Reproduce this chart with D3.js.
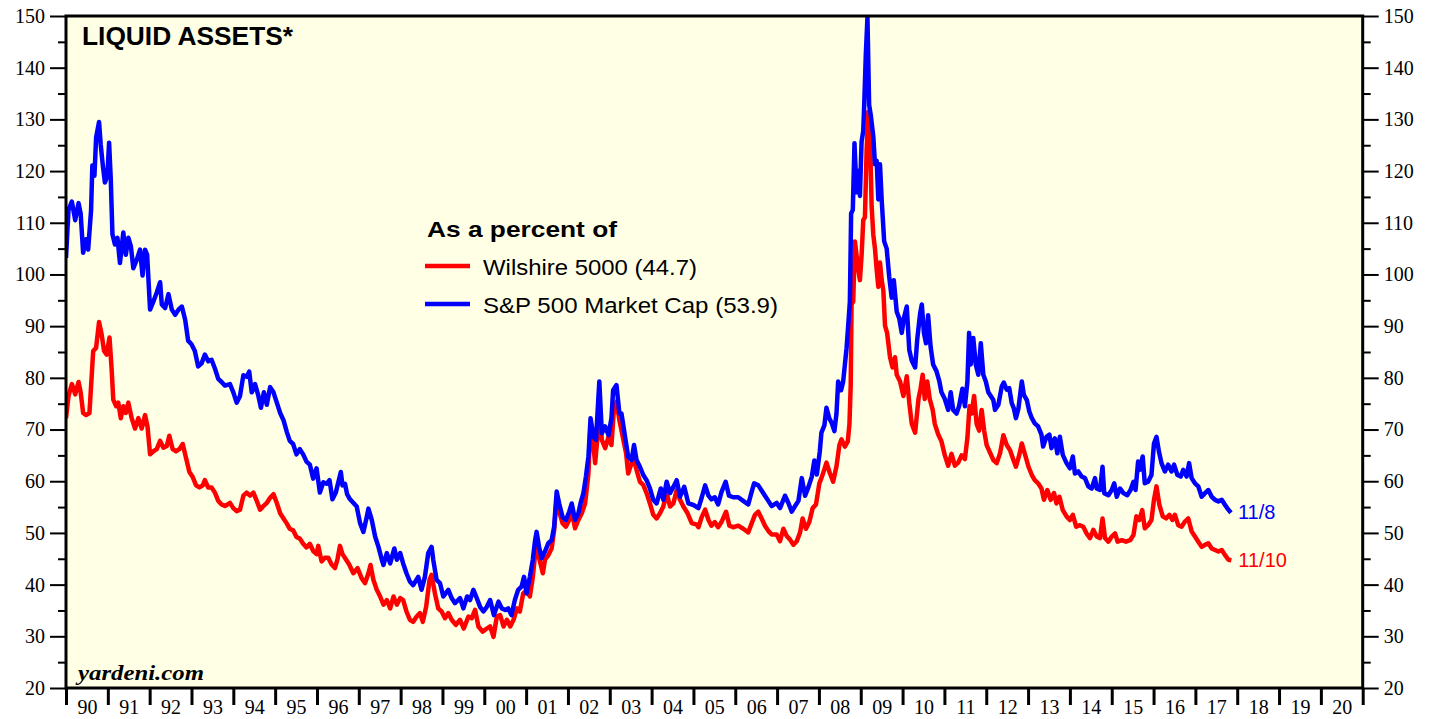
<!DOCTYPE html>
<html><head><meta charset="utf-8">
<script src="https://cdn.jsdelivr.net/npm/d3@7"></script>
<style>body{margin:0;background:#fff;} svg{display:block}</style>
</head><body><svg id="c" width="1437" height="719"></svg>
<script>
// ---- data ----
const yearLabels = ["90","91","92","93","94","95","96","97","98","99","00","01","02","03","04","05","06","07","08","09","10","11","12","13","14","15","16","17","18","19","20"];
const majorTicks = [20,30,40,50,60,70,80,90,100,110,120,130,140,150];
const minorTicks = [25,35,45,55,65,75,85,95,105,115,125,135,145];
const seriesNames = ["Wilshire 5000 (44.7)", "S&P 500 Market Cap (53.9)"];
const endLabels = ["11/10", "11/8"];

// S&P 500 market cap (blue), [decimal year, percent]
const spData = [[1990.00,103.2],[1990.06,112.5],[1990.14,114.1],[1990.22,110.5],[1990.30,113.8],[1990.35,111.8],[1990.41,104.2],[1990.48,106.8],[1990.53,104.8],[1990.60,112.5],[1990.63,121.1],[1990.68,119.1],[1990.72,126.5],[1990.79,129.5],[1990.83,125.1],[1990.88,121.1],[1990.93,117.8],[1990.99,119.1],[1991.03,125.5],[1991.07,118.5],[1991.11,107.8],[1991.17,105.8],[1991.23,107.1],[1991.29,102.2],[1991.37,108.1],[1991.43,103.8],[1991.49,107.1],[1991.55,105.5],[1991.61,101.2],[1991.69,102.8],[1991.77,104.8],[1991.83,99.8],[1991.89,104.8],[1991.94,103.8],[1992.01,93.2],[1992.09,94.8],[1992.17,96.5],[1992.25,98.5],[1992.29,94.2],[1992.37,93.5],[1992.45,96.2],[1992.53,93.2],[1992.61,92.2],[1992.69,93.2],[1992.77,93.8],[1992.85,91.2],[1992.92,87.2],[1993.00,86.5],[1993.08,85.2],[1993.16,82.2],[1993.24,82.8],[1993.32,84.5],[1993.40,83.2],[1993.48,83.5],[1993.56,81.8],[1993.64,79.8],[1993.72,79.2],[1993.80,78.5],[1993.92,78.8],[1994.00,77.2],[1994.08,75.2],[1994.16,76.5],[1994.24,80.5],[1994.32,80.2],[1994.38,81.2],[1994.44,77.2],[1994.52,78.8],[1994.60,76.5],[1994.66,74.2],[1994.73,77.2],[1994.80,74.8],[1994.88,78.2],[1994.96,77.2],[1995.04,75.2],[1995.12,73.2],[1995.20,71.8],[1995.28,69.5],[1995.35,67.8],[1995.43,67.2],[1995.51,65.2],[1995.59,66.2],[1995.67,65.2],[1995.75,63.8],[1995.83,63.2],[1995.91,60.5],[1995.99,62.5],[1996.07,57.8],[1996.15,59.8],[1996.23,59.5],[1996.30,60.2],[1996.37,56.5],[1996.45,57.8],[1996.51,59.8],[1996.57,61.8],[1996.61,59.2],[1996.67,59.5],[1996.72,57.5],[1996.79,56.5],[1996.95,55.1],[1997.03,51.9],[1997.11,50.2],[1997.19,53.1],[1997.23,54.7],[1997.31,52.5],[1997.39,49.3],[1997.47,47.3],[1997.55,44.8],[1997.59,43.8],[1997.67,46.1],[1997.75,44.1],[1997.85,47.0],[1997.91,44.8],[1997.99,46.1],[1998.06,44.1],[1998.14,42.2],[1998.22,40.6],[1998.30,39.9],[1998.42,41.5],[1998.50,39.0],[1998.58,41.5],[1998.66,46.1],[1998.74,47.3],[1998.78,44.8],[1998.86,40.9],[1998.94,40.3],[1999.02,37.7],[1999.14,39.0],[1999.22,37.4],[1999.30,36.4],[1999.42,37.4],[1999.50,35.4],[1999.59,37.7],[1999.66,37.0],[1999.74,39.0],[1999.82,37.4],[1999.90,35.7],[1999.98,34.8],[2000.06,35.7],[2000.14,37.0],[2000.23,34.1],[2000.34,36.7],[2000.42,35.4],[2000.50,35.1],[2000.57,35.4],[2000.65,34.1],[2000.73,37.0],[2000.81,39.0],[2000.89,39.6],[2000.95,41.5],[2001.01,38.3],[2001.09,41.5],[2001.16,44.8],[2001.21,48.3],[2001.25,50.2],[2001.31,47.3],[2001.37,45.1],[2001.45,46.4],[2001.53,48.0],[2001.61,48.6],[2001.67,51.2],[2001.73,58.0],[2001.79,55.7],[2001.87,53.1],[2001.95,52.5],[2002.03,54.1],[2002.09,55.7],[2002.17,52.5],[2002.25,53.8],[2002.30,55.7],[2002.37,57.7],[2002.43,60.9],[2002.49,64.8],[2002.54,72.2],[2002.61,68.6],[2002.67,68.0],[2002.75,79.3],[2002.81,69.3],[2002.89,70.6],[2002.97,68.9],[2003.04,72.2],[2003.08,77.6],[2003.16,78.6],[2003.23,73.1],[2003.28,73.1],[2003.36,68.9],[2003.44,64.7],[2003.52,64.1],[2003.58,67.0],[2003.64,64.1],[2003.72,62.8],[2003.80,61.2],[2003.88,60.2],[2003.96,58.6],[2004.04,56.4],[2004.12,55.7],[2004.22,58.6],[2004.28,56.4],[2004.36,59.9],[2004.44,57.7],[2004.52,58.9],[2004.60,60.2],[2004.68,57.0],[2004.78,58.9],[2004.88,55.7],[2005.00,55.4],[2005.12,54.8],[2005.20,56.9],[2005.28,59.2],[2005.36,57.2],[2005.43,56.5],[2005.51,56.9],[2005.59,55.5],[2005.67,57.9],[2005.77,59.9],[2005.85,57.2],[2005.95,56.9],[2006.07,56.9],[2006.19,56.2],[2006.31,55.5],[2006.39,57.9],[2006.45,59.6],[2006.55,59.2],[2006.63,58.2],[2006.71,57.2],[2006.79,56.2],[2006.87,55.2],[2006.99,55.8],[2007.07,54.8],[2007.19,57.2],[2007.27,55.8],[2007.35,54.1],[2007.43,55.2],[2007.51,56.2],[2007.59,60.6],[2007.67,57.2],[2007.75,58.9],[2007.83,60.9],[2007.89,64.0],[2007.95,61.3],[2008.02,65.7],[2008.06,69.4],[2008.13,70.8],[2008.18,74.2],[2008.25,72.1],[2008.30,71.4],[2008.37,69.7],[2008.42,73.1],[2008.46,79.3],[2008.53,77.6],[2008.58,79.3],[2008.66,85.7],[2008.70,90.1],[2008.74,94.8],[2008.77,111.8],[2008.81,112.5],[2008.85,125.4],[2008.90,115.9],[2008.94,120.0],[2008.98,115.2],[2009.02,125.7],[2009.06,127.8],[2009.08,132.2],[2009.12,142.3],[2009.16,149.8],[2009.20,132.8],[2009.24,130.8],[2009.30,126.7],[2009.34,121.3],[2009.38,122.0],[2009.42,114.5],[2009.46,121.3],[2009.50,114.5],[2009.56,106.4],[2009.62,105.0],[2009.68,99.6],[2009.74,95.5],[2009.79,98.9],[2009.86,92.8],[2009.92,91.5],[2009.98,88.7],[2010.03,91.5],[2010.10,93.8],[2010.16,85.4],[2010.22,83.3],[2010.30,82.0],[2010.35,87.4],[2010.42,92.5],[2010.46,94.2],[2010.51,88.7],[2010.56,86.7],[2010.61,92.1],[2010.67,86.0],[2010.73,82.6],[2010.81,81.3],[2010.88,79.3],[2010.93,77.2],[2011.01,75.9],[2011.09,73.8],[2011.15,77.2],[2011.21,73.8],[2011.29,73.1],[2011.35,74.5],[2011.43,77.9],[2011.49,74.5],[2011.55,79.3],[2011.59,88.7],[2011.63,82.6],[2011.69,87.7],[2011.75,82.6],[2011.81,80.6],[2011.87,86.7],[2011.93,80.6],[2011.99,79.3],[2012.05,77.2],[2012.17,75.7],[2012.21,73.8],[2012.29,74.8],[2012.37,78.3],[2012.42,79.1],[2012.49,77.7],[2012.55,78.0],[2012.61,75.1],[2012.66,74.1],[2012.71,72.2],[2012.77,74.1],[2012.85,79.3],[2012.90,76.7],[2012.97,75.7],[2013.03,73.5],[2013.09,72.2],[2013.16,71.2],[2013.24,70.6],[2013.32,69.0],[2013.36,66.7],[2013.44,68.6],[2013.51,69.0],[2013.56,66.4],[2013.64,68.3],[2013.70,65.4],[2013.76,68.6],[2013.83,65.1],[2013.92,63.5],[2014.00,62.5],[2014.07,64.8],[2014.12,61.5],[2014.20,61.9],[2014.28,60.9],[2014.36,60.6],[2014.44,59.0],[2014.52,58.6],[2014.60,60.6],[2014.64,58.6],[2014.72,58.3],[2014.78,62.8],[2014.82,57.7],[2014.92,57.3],[2015.00,58.3],[2015.06,59.6],[2015.12,57.0],[2015.20,58.6],[2015.28,57.7],[2015.37,57.3],[2015.45,58.3],[2015.52,59.9],[2015.57,58.3],[2015.63,63.8],[2015.67,62.2],[2015.74,64.8],[2015.79,59.6],[2015.87,59.9],[2015.95,61.2],[2016.01,67.3],[2016.07,68.6],[2016.13,65.7],[2016.19,63.5],[2016.27,61.9],[2016.35,63.2],[2016.43,61.9],[2016.49,63.2],[2016.57,61.2],[2016.65,60.9],[2016.71,62.2],[2016.79,60.9],[2016.85,63.5],[2016.91,60.6],[2016.99,59.6],[2017.07,59.0],[2017.15,57.0],[2017.23,57.7],[2017.31,58.3],[2017.39,57.0],[2017.47,56.4],[2017.55,56.1],[2017.63,56.4],[2017.71,55.4],[2017.76,54.8],[2017.85,53.9]];

// Wilshire 5000 (red), [decimal year, percent]
const wilshireData = [[1990.00,72.2],[1990.06,76.5],[1990.14,78.8],[1990.22,76.8],[1990.30,79.2],[1990.35,77.2],[1990.41,73.2],[1990.48,72.8],[1990.56,73.2],[1990.61,79.8],[1990.65,85.2],[1990.72,85.8],[1990.79,90.8],[1990.85,88.5],[1990.91,85.2],[1990.97,84.5],[1991.04,87.8],[1991.09,81.8],[1991.13,75.8],[1991.20,74.5],[1991.25,75.2],[1991.31,72.2],[1991.37,74.5],[1991.43,73.2],[1991.49,75.2],[1991.57,72.2],[1991.65,70.2],[1991.73,72.2],[1991.81,70.2],[1991.89,72.8],[1991.95,70.5],[1992.01,65.2],[1992.09,65.8],[1992.17,66.2],[1992.25,67.8],[1992.33,66.5],[1992.41,66.8],[1992.47,68.8],[1992.55,66.2],[1992.63,65.8],[1992.71,66.2],[1992.79,67.2],[1992.87,64.5],[1992.95,61.8],[1993.03,60.8],[1993.11,59.2],[1993.19,58.8],[1993.27,59.2],[1993.32,60.2],[1993.40,58.8],[1993.48,58.8],[1993.56,57.8],[1993.64,56.2],[1993.72,55.5],[1993.80,55.2],[1993.92,55.8],[1994.00,54.8],[1994.08,54.2],[1994.16,54.5],[1994.24,57.2],[1994.32,57.8],[1994.40,57.2],[1994.48,57.8],[1994.56,56.2],[1994.64,54.5],[1994.72,55.2],[1994.80,55.8],[1994.88,56.8],[1994.96,57.5],[1995.04,55.8],[1995.12,53.8],[1995.20,52.8],[1995.28,51.8],[1995.35,50.8],[1995.43,50.5],[1995.51,49.2],[1995.59,48.9],[1995.67,47.9],[1995.75,47.2],[1995.83,47.9],[1995.91,46.5],[1995.99,45.9],[1996.03,47.5],[1996.11,44.5],[1996.19,45.2],[1996.27,45.2],[1996.35,43.9],[1996.43,43.2],[1996.49,44.9],[1996.55,47.5],[1996.61,45.9],[1996.69,44.9],[1996.77,43.9],[1996.87,42.2],[1996.97,43.2],[1997.07,41.2],[1997.15,40.3],[1997.23,42.2],[1997.28,43.8],[1997.35,40.9],[1997.43,39.0],[1997.51,37.7],[1997.59,36.1],[1997.67,37.0],[1997.75,35.4],[1997.83,37.7],[1997.91,36.1],[1997.99,37.4],[1998.06,37.0],[1998.14,34.8],[1998.22,33.2],[1998.30,32.8],[1998.38,33.8],[1998.46,34.5],[1998.53,32.8],[1998.61,35.7],[1998.69,40.9],[1998.74,41.9],[1998.82,38.3],[1998.90,35.4],[1998.98,34.8],[1999.06,33.5],[1999.14,34.5],[1999.22,33.2],[1999.32,32.2],[1999.42,33.2],[1999.51,31.5],[1999.62,33.8],[1999.70,33.5],[1999.78,35.1],[1999.86,31.9],[1999.96,30.9],[2000.06,31.5],[2000.14,31.9],[2000.22,29.9],[2000.30,33.8],[2000.38,34.1],[2000.46,31.9],[2000.54,33.2],[2000.62,31.9],[2000.70,33.2],[2000.78,35.4],[2000.85,34.8],[2000.93,38.3],[2001.01,38.9],[2001.09,37.7],[2001.16,41.5],[2001.24,47.7],[2001.32,44.8],[2001.40,42.2],[2001.45,44.8],[2001.53,45.7],[2001.61,47.0],[2001.67,50.5],[2001.73,56.7],[2001.79,54.1],[2001.87,51.9],[2001.95,51.2],[2002.03,52.5],[2002.09,54.1],[2002.17,50.9],[2002.25,52.5],[2002.33,53.8],[2002.41,55.7],[2002.49,61.5],[2002.54,71.2],[2002.61,66.7],[2002.65,63.5],[2002.70,68.0],[2002.75,75.1],[2002.81,68.0],[2002.89,66.4],[2002.97,68.6],[2003.04,67.0],[2003.10,74.1],[2003.16,75.4],[2003.23,71.8],[2003.31,68.6],[2003.39,65.4],[2003.44,61.5],[2003.52,63.5],[2003.58,64.1],[2003.64,62.2],[2003.72,59.9],[2003.80,59.3],[2003.88,57.7],[2003.96,55.7],[2004.04,53.5],[2004.12,52.8],[2004.20,53.8],[2004.28,55.1],[2004.36,57.7],[2004.44,55.1],[2004.52,55.7],[2004.60,58.3],[2004.68,56.4],[2004.76,55.1],[2004.86,53.8],[2004.96,51.9],[2005.08,51.6],[2005.12,51.1],[2005.20,53.1],[2005.28,54.5],[2005.36,52.5],[2005.43,51.4],[2005.51,52.1],[2005.59,51.1],[2005.67,52.1],[2005.78,54.1],[2005.86,51.4],[2005.95,51.1],[2006.07,51.4],[2006.19,50.8],[2006.31,50.1],[2006.39,51.8],[2006.47,53.5],[2006.55,54.1],[2006.63,52.8],[2006.71,51.4],[2006.79,50.4],[2006.87,49.7],[2006.99,49.7],[2007.07,48.4],[2007.15,50.8],[2007.23,49.4],[2007.31,48.7],[2007.39,47.7],[2007.47,48.4],[2007.55,50.1],[2007.61,52.8],[2007.69,50.8],[2007.77,52.1],[2007.85,54.8],[2007.93,55.5],[2008.01,59.6],[2008.06,60.6],[2008.13,62.3],[2008.18,63.6],[2008.26,61.6],[2008.34,59.9],[2008.42,62.9],[2008.49,67.0],[2008.54,68.1],[2008.62,66.7],[2008.69,67.7],[2008.73,71.1],[2008.76,78.6],[2008.78,94.2],[2008.82,94.8],[2008.86,106.4],[2008.90,103.7],[2008.94,101.0],[2008.98,98.9],[2009.02,103.7],[2009.06,110.5],[2009.10,111.1],[2009.14,124.0],[2009.18,131.5],[2009.22,127.4],[2009.26,113.2],[2009.30,107.7],[2009.34,105.0],[2009.38,101.0],[2009.42,97.6],[2009.46,102.3],[2009.50,98.9],[2009.54,96.9],[2009.58,90.1],[2009.63,88.7],[2009.70,84.0],[2009.76,82.0],[2009.82,84.0],[2009.86,80.6],[2009.94,79.3],[2010.02,76.5],[2010.10,80.3],[2010.16,75.2],[2010.22,71.1],[2010.30,69.4],[2010.38,75.9],[2010.43,77.9],[2010.48,80.6],[2010.53,75.9],[2010.59,79.3],[2010.65,75.9],[2010.72,73.8],[2010.77,71.1],[2010.85,69.1],[2010.93,67.7],[2011.01,65.0],[2011.09,63.0],[2011.17,65.3],[2011.25,63.0],[2011.33,63.6],[2011.41,65.0],[2011.49,64.3],[2011.55,68.4],[2011.60,74.5],[2011.65,73.1],[2011.71,76.5],[2011.77,71.1],[2011.83,69.8],[2011.89,73.8],[2011.95,69.8],[2012.01,67.0],[2012.17,64.1],[2012.25,63.5],[2012.33,65.4],[2012.41,68.9],[2012.49,67.0],[2012.57,66.0],[2012.65,64.1],[2012.71,62.8],[2012.79,65.1],[2012.85,67.3],[2012.93,65.1],[2013.01,62.8],[2013.09,61.2],[2013.16,60.2],[2013.24,59.6],[2013.32,58.6],[2013.38,56.4],[2013.46,58.3],[2013.54,56.4],[2013.62,57.7],[2013.68,55.7],[2013.75,57.0],[2013.83,54.4],[2013.92,53.2],[2014.00,52.5],[2014.07,53.5],[2014.15,51.2],[2014.24,51.5],[2014.32,51.2],[2014.40,49.9],[2014.48,49.0],[2014.56,50.6],[2014.64,49.3],[2014.72,49.0],[2014.78,52.8],[2014.84,49.0],[2014.92,48.3],[2015.00,49.3],[2015.08,49.9],[2015.14,48.3],[2015.24,48.6],[2015.34,48.3],[2015.44,48.6],[2015.52,49.6],[2015.59,53.2],[2015.66,52.5],[2015.73,54.4],[2015.79,50.9],[2015.87,51.5],[2015.95,52.5],[2016.01,56.4],[2016.07,59.0],[2016.14,55.4],[2016.22,53.2],[2016.30,52.8],[2016.38,53.5],[2016.45,52.5],[2016.51,53.5],[2016.59,51.5],[2016.67,51.2],[2016.75,52.2],[2016.83,52.8],[2016.91,50.3],[2016.99,49.3],[2017.07,48.3],[2017.15,47.3],[2017.23,47.7],[2017.31,48.0],[2017.39,47.0],[2017.47,46.7],[2017.55,46.4],[2017.63,46.7],[2017.71,45.7],[2017.79,44.8],[2017.86,44.7]];

const RED = "#ff0000", BLUE = "#0000ff";
const svg = d3.select("#c");
const L = 66, R = 1362.7, T = 16, B = 688;
const x = d3.scaleLinear().domain([1990, 2021]).range([L, R]);
const y = d3.scaleLinear().domain([20, 150]).range([B, T]);
const serif = "'Liberation Serif','Times New Roman',serif";
const sans = "'Liberation Sans',Arial,Helvetica,sans-serif";

// plot background
svg.append("rect").attr("x", L).attr("y", T).attr("width", R - L).attr("height", B - T).attr("fill", "#ffffe6");

// clip
svg.append("defs").append("clipPath").attr("id", "clip")
  .append("rect").attr("x", L).attr("y", T).attr("width", R - L).attr("height", B - T);

const line = d3.line().x(d => x(d[0])).y(d => y(d[1])).curve(d3.curveLinear);
const g = svg.append("g").attr("clip-path", "url(#clip)");
g.append("path").datum(wilshireData).attr("d", line).attr("fill", "none").attr("stroke", RED).attr("stroke-width", 4.5).attr("stroke-linejoin", "round");
g.append("path").datum(spData).attr("d", line).attr("fill", "none").attr("stroke", BLUE).attr("stroke-width", 4.5).attr("stroke-linejoin", "round");

// axes
function styleAxis(sel) {
  sel.select(".domain").remove();
  sel.selectAll(".tick line").attr("stroke", "#000").attr("stroke-width", 2);
  sel.selectAll(".tick text").attr("fill", "#000").style("font-family", serif).style("font-size", "20px");
}
svg.append("g").attr("transform", `translate(${L},0)`)
  .call(d3.axisLeft(y).tickValues(minorTicks).tickSize(8).tickFormat("")).call(styleAxis);
svg.append("g").attr("transform", `translate(${L},0)`)
  .call(d3.axisLeft(y).tickValues(majorTicks).tickSize(16).tickPadding(5)).call(styleAxis);
svg.append("g").attr("transform", `translate(${R},0)`)
  .call(d3.axisRight(y).tickValues(minorTicks).tickSize(8).tickFormat("")).call(styleAxis);
svg.append("g").attr("transform", `translate(${R},0)`)
  .call(d3.axisRight(y).tickValues(majorTicks).tickSize(16).tickPadding(5)).call(styleAxis);

const yearBounds = d3.range(1990, 2022);
svg.append("g").attr("transform", `translate(0,${B})`)
  .call(d3.axisBottom(x).tickValues(yearBounds).tickSize(17).tickFormat(""))
  .call(styleAxis).call(s => s.selectAll(".tick line").attr("stroke-width", 3));
svg.append("g").attr("transform", `translate(0,${B})`)
  .call(d3.axisBottom(x).tickValues(yearLabels.map((d, i) => 1990.5 + i)).tickSize(0).tickPadding(12)
    .tickFormat((d, i) => yearLabels[i]))
  .call(styleAxis);

// frame
svg.append("rect").attr("x", L).attr("y", T).attr("width", R - L).attr("height", B - T)
  .attr("fill", "none").attr("stroke", "#000").attr("stroke-width", 3);

// title
svg.append("text").attr("x", 82).attr("y", 45).text("LIQUID ASSETS*")
  .style("font-family", sans).style("font-weight", "bold").style("font-size", "25px")
  .attr("textLength", 211).attr("lengthAdjust", "spacingAndGlyphs");

// legend
svg.append("text").attr("x", 427).attr("y", 237).text("As a percent of")
  .style("font-family", sans).style("font-weight", "bold").style("font-size", "22px")
  .attr("textLength", 190).attr("lengthAdjust", "spacingAndGlyphs");
const legendColors = [RED, BLUE];
const legendY = [266, 304];
const legendW = [214, 295];
seriesNames.forEach((name, i) => {
  svg.append("line").attr("x1", 425).attr("x2", 470).attr("y1", legendY[i]).attr("y2", legendY[i])
    .attr("stroke", legendColors[i]).attr("stroke-width", 4.5);
  svg.append("text").attr("x", 483).attr("y", legendY[i] + 9).text(name)
    .style("font-family", sans).style("font-size", "22px").attr("fill", "#000")
    .attr("textLength", legendW[i]).attr("lengthAdjust", "spacingAndGlyphs");
});

// end labels
const lastPts = [wilshireData[wilshireData.length - 1], spData[spData.length - 1]];
const endY = [567, 519];
endLabels.forEach((t, i) => {
  svg.append("text").attr("x", x(lastPts[i][0]) + 7).attr("y", endY[i]).text(t)
    .attr("fill", legendColors[i]).style("font-family", sans).style("font-size", "20px");
});

// source
svg.append("text").attr("x", 78).attr("y", 680).text("yardeni.com")
  .style("font-family", serif).style("font-weight", "bold").style("font-style", "italic").style("font-size", "22px")
  .attr("textLength", 126).attr("lengthAdjust", "spacingAndGlyphs");
</script></body></html>
